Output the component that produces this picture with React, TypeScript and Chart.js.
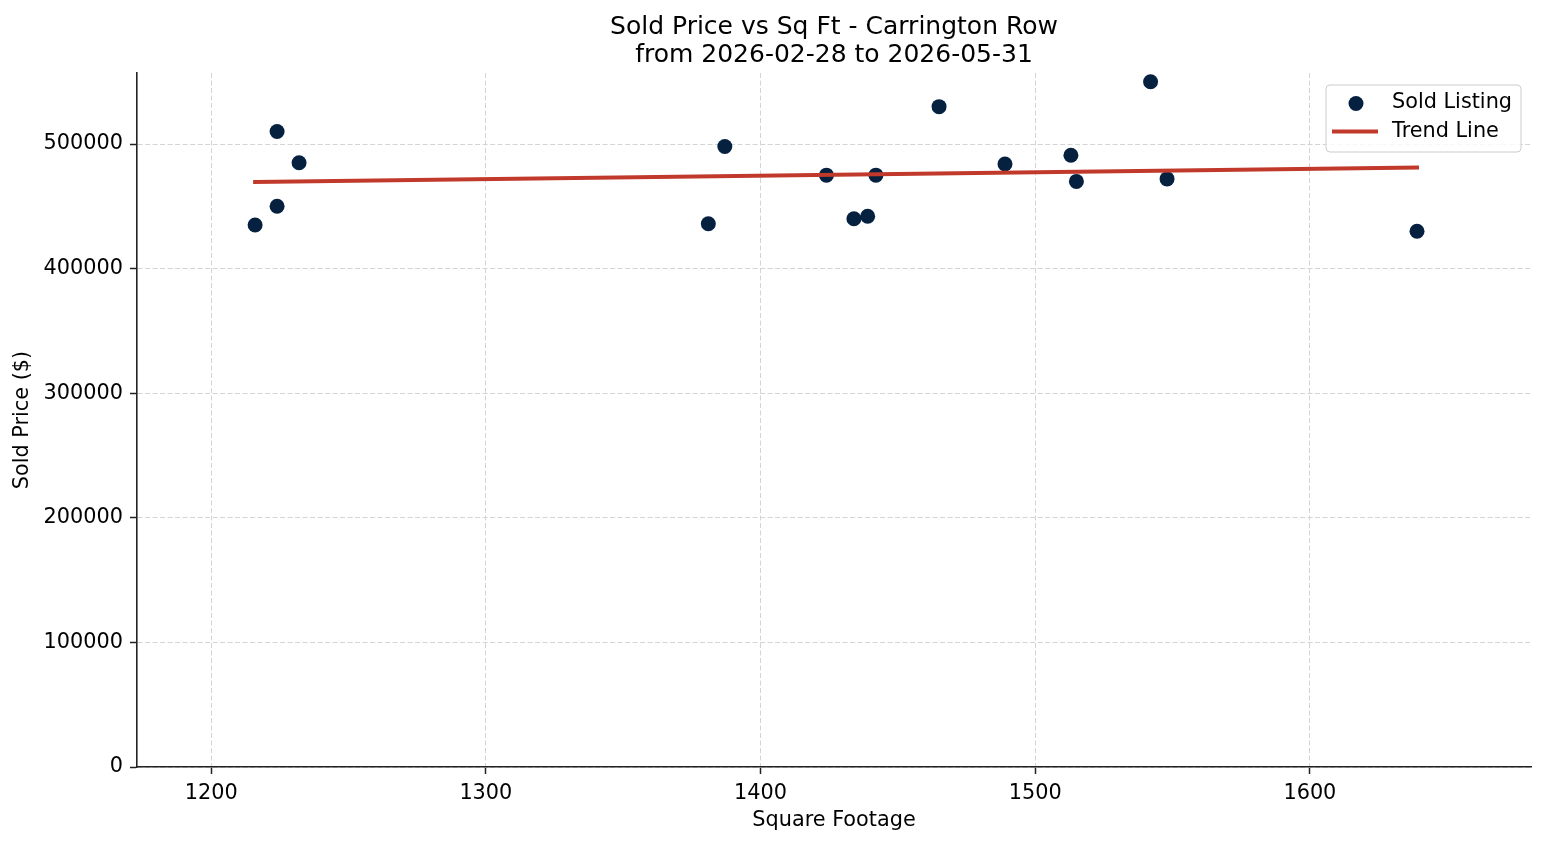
import React, { useEffect, useRef } from "react";
import { Chart, registerables } from "chart.js";

Chart.register(...registerables);

// ---- data ----
const titleLines = ["Sold Price vs Sq Ft - Carrington Row", "from 2026-02-28 to 2026-05-31"];
const xAxisLabel = "Square Footage";
const yAxisLabel = "Sold Price ($)";

const sqft = [1216, 1224, 1224, 1232, 1381, 1387, 1424, 1434, 1439, 1442, 1465, 1489, 1513, 1515, 1542, 1548, 1639];
const soldPrice = [435000, 510000, 450000, 485000, 436000, 498000, 475000, 440000, 442000, 475000, 530000, 484000, 491000, 470000, 550000, 472000, 430000];

const trendX = [1216, 1639];
const trendY = [469600, 481100];

const xTicks = [1200, 1300, 1400, 1500, 1600];
const yTicks = [0, 100000, 200000, 300000, 400000, 500000];

const seriesNames = ["Sold Listing", "Trend Line"];

const X_MIN = 1173;
const X_MAX = 1680.5;
const Y_MIN = 0;
const Y_MAX = 557000;

const FONT = "'DejaVu Sans', sans-serif";
const POINT_COLOR = "#06203f";
const LINE_COLOR = "#c0392b";
const GRID_COLOR = "#d4d4d4";
const SPINE_COLOR = "#222222";

const legendPlugin = {
  id: "mplLegend",
  afterDraw(chart: any) {
    const { ctx, chartArea } = chart;
    const w = 195;
    const h = 67;
    const right = chartArea.right - 10;
    const top = chartArea.top + 12;
    const left = right - w;
    ctx.save();
    ctx.beginPath();
    const r = 4;
    ctx.moveTo(left + r, top);
    ctx.lineTo(left + w - r, top);
    ctx.quadraticCurveTo(left + w, top, left + w, top + r);
    ctx.lineTo(left + w, top + h - r);
    ctx.quadraticCurveTo(left + w, top + h, left + w - r, top + h);
    ctx.lineTo(left + r, top + h);
    ctx.quadraticCurveTo(left, top + h, left, top + h - r);
    ctx.lineTo(left, top + r);
    ctx.quadraticCurveTo(left, top, left + r, top);
    ctx.closePath();
    ctx.fillStyle = "rgba(255,255,255,0.8)";
    ctx.fill();
    ctx.strokeStyle = "#cccccc";
    ctx.lineWidth = 1;
    ctx.stroke();

    // marker
    ctx.beginPath();
    ctx.arc(left + 30, top + 18.5, 7.5, 0, Math.PI * 2);
    ctx.fillStyle = POINT_COLOR;
    ctx.fill();

    // line sample
    ctx.beginPath();
    ctx.moveTo(left + 6, top + 46.5);
    ctx.lineTo(left + 52, top + 46.5);
    ctx.strokeStyle = LINE_COLOR;
    ctx.lineWidth = 4;
    ctx.lineCap = "butt";
    ctx.stroke();

    ctx.fillStyle = "#000";
    ctx.font = `20.8px ${FONT}`;
    ctx.textAlign = "left";
    ctx.textBaseline = "middle";
    ctx.fillText(seriesNames[0], left + 66, top + 17.5);
    ctx.fillText(seriesNames[1], left + 66, top + 46.5);
    ctx.restore();
  },
};

export default function App() {
  const canvasRef = useRef<HTMLCanvasElement | null>(null);

  useEffect(() => {
    const canvas = canvasRef.current;
    if (!canvas) return;
    Chart.defaults.font.family = FONT;
    Chart.defaults.color = "#000";

    const gridOpts = {
      color: GRID_COLOR,
      lineWidth: 1,
      drawTicks: true,
      tickLength: 7,
      tickColor: SPINE_COLOR,
      tickWidth: 1.5,
      tickBorderDash: [],
    };

    const chart = new Chart(canvas, {
      type: "scatter",
      data: {
        datasets: [
          {
            type: "line",
            label: seriesNames[1],
            data: trendX.map((x, i) => ({ x, y: trendY[i] })),
            borderColor: LINE_COLOR,
            backgroundColor: LINE_COLOR,
            borderWidth: 4,
            borderCapStyle: "square",
            pointRadius: 0,
            fill: false,
            tension: 0,
            order: 0,
          } as any,
          {
            type: "scatter",
            label: seriesNames[0],
            data: sqft.map((x, i) => ({ x, y: soldPrice[i] })),
            backgroundColor: POINT_COLOR,
            borderColor: POINT_COLOR,
            borderWidth: 0,
            pointRadius: 7.5,
            pointHoverRadius: 7.5,
            order: 1,
          },
        ],
      },
      options: {
        responsive: false,
        animation: false,
        events: [],
        layout: { padding: { left: 0, right: 16, top: 0, bottom: 0 } },
        plugins: {
          legend: { display: false },
          tooltip: { enabled: false },
          title: {
            display: true,
            fullSize: false,
            text: titleLines,
            color: "#000",
            font: { family: FONT, size: 25, weight: "normal", lineHeight: 1.12 },
            padding: { top: 13, bottom: 4 },
          },
        },
        scales: {
          x: {
            type: "linear",
            min: X_MIN,
            max: X_MAX,
            afterBuildTicks: (scale: any) => {
              scale.ticks = xTicks.map((v) => ({ value: v }));
            },
            afterFit: (scale: any) => {
              scale.height = 78;
            },
            ticks: {
              autoSkip: false,
              maxRotation: 0,
              padding: 7,
              color: "#000",
              font: { family: FONT, size: 20.8 },
              callback: (v: any) => String(v),
            },
            grid: gridOpts,
            border: { display: true, color: SPINE_COLOR, width: 1.6, dash: [5, 2.5] },
            title: {
              display: true,
              text: xAxisLabel,
              color: "#000",
              font: { family: FONT, size: 20.8, lineHeight: 1.2 },
              padding: { top: 0, bottom: 11.5 },
            },
          },
          y: {
            type: "linear",
            min: Y_MIN,
            max: Y_MAX,
            afterBuildTicks: (scale: any) => {
              scale.ticks = yTicks.map((v) => ({ value: v }));
            },
            afterFit: (scale: any) => {
              scale.width = 137;
            },
            ticks: {
              autoSkip: false,
              padding: 7,
              color: "#000",
              font: { family: FONT, size: 20.8 },
              callback: (v: any) => String(v),
            },
            grid: gridOpts,
            border: { display: true, color: SPINE_COLOR, width: 1.6, dash: [5, 2.5] },
            title: {
              display: true,
              text: yAxisLabel,
              color: "#000",
              font: { family: FONT, size: 20.8, lineHeight: 1.2 },
              padding: { top: 10.5, bottom: 0 },
            },
          },
        },
      } as any,
      plugins: [legendPlugin],
    });

    return () => {
      chart.destroy();
    };
  }, []);

  return (
    <div style={{ position: "fixed", left: 0, top: 0, width: 1547, height: 845, background: "#fff" }}>
      <canvas ref={canvasRef} width={1547} height={845} style={{ display: "block", width: 1547, height: 845 }} />
    </div>
  );
}
